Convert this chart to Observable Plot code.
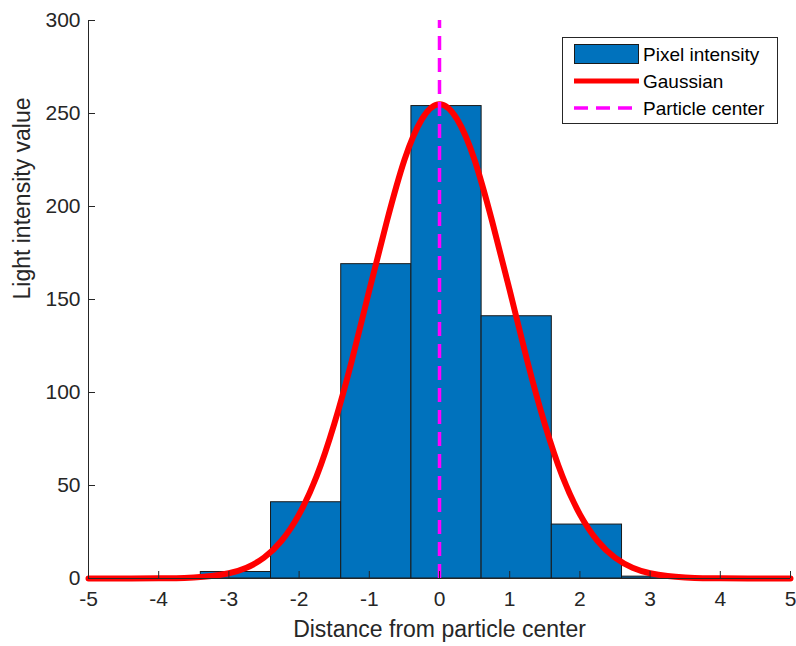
<!DOCTYPE html>
<html><head><meta charset="utf-8">
<script src="https://cdn.jsdelivr.net/npm/d3@7"></script>
<script src="https://cdn.jsdelivr.net/npm/@observablehq/plot@0.6"></script>
<style>
body{margin:0;background:#fff;font-family:"Liberation Sans",Arial,sans-serif;}
#chart{position:relative;width:796px;height:646px;}
</style></head><body><div id="chart"></div>
<script>
const binStart = [-3.4, -2.4, -1.4, -0.4, 0.6, 1.6, 2.6];
const binEnd   = [-2.4, -1.4, -0.4, 0.6, 1.6, 2.6, 3.6];
const intensity = [3.5, 41, 169, 254, 141, 29, 1];
const gaussX = [-5,-4.5,-4,-3.75,-3.5,-3.25,-3,-2.75,-2.5,-2.25,-2,-1.75,-1.5,-1.25,-1,-0.75,-0.5,-0.25,0,0.25,0.5,0.75,1,1.25,1.5,1.75,2,2.25,2.5,2.75,3,3.25,3.5,3.75,4,4.5,5];
const gaussY = [0,0,0.1,0.2,0.6,1.3,2.8,5.8,11.2,20.3,34.5,55,83,117,155,192,225,247,255,247,225,192,155,117,83,55,34.5,20.3,11.2,5.8,2.8,1.3,0.6,0.2,0.1,0,0];
const centerX = 0;
const xTicks = [-5,-4,-3,-2,-1,0,1,2,3,4,5];
const yTicks = [0,50,100,150,200,250,300];

const bars = binStart.map((s,i)=>({x1:s,x2:binEnd[i],y:intensity[i]}));
const curve = gaussX.map((x,i)=>({x,y:gaussY[i]}));
const FW = 796-88-6, FH = 646-20-68;

const plot = Plot.plot({
  width:796, height:646,
  marginLeft:88, marginRight:6, marginTop:20, marginBottom:68,
  x:{domain:[-5,5]}, y:{domain:[0,300]},
  style:{fontFamily:"Liberation Sans, Arial, sans-serif", fontSize:"21px", color:"#262626", background:"#fff"},
  marks:[
    Plot.rectY(bars,{x1:"x1",x2:"x2",y:"y",fill:"#0072BD",stroke:"#1a1a1a",strokeWidth:1}),
    Plot.line(curve,{x:"x",y:"y",stroke:"#FF0000",strokeWidth:6,curve:"natural"}),
    Plot.ruleX([centerX],{y1:0,y2:300,stroke:"#FF00FF",strokeWidth:3.5,strokeDasharray:"14,8"}),
    Plot.axisX({ticks:xTicks,tickSize:0,tickPadding:13,tickFormat:d=>String(d),fill:"#262626",fontSize:21,label:null}),
    Plot.axisY({ticks:yTicks,tickSize:0,tickPadding:8,tickFormat:d=>String(d),fill:"#262626",fontSize:21,label:null}),
    Plot.tickX(xTicks,{x:d=>d,insetTop:FH-7,stroke:"#262626"}),
    Plot.tickY(yTicks,{y:d=>d,insetRight:FW-7,stroke:"#262626"}),
    Plot.ruleY([0],{stroke:"#262626"}),
    Plot.ruleX([-5],{stroke:"#262626"}),
    Plot.text(["Distance from particle center"],{frameAnchor:"bottom",dy:58,fontSize:23,fill:"#262626"}),
    Plot.text(["Light intensity value"],{frameAnchor:"left",dx:-66,rotate:-90,fontSize:23,fill:"#262626"})
  ]
});
document.getElementById("chart").appendChild(plot);

// legend
const svg = d3.select(plot);
const g = svg.append("g").attr("font-family","Liberation Sans, Arial, sans-serif").attr("font-size",19).attr("fill","#000").attr("text-anchor","start");
g.append("rect").attr("x",562.5).attr("y",37.5).attr("width",215).attr("height",86).attr("fill","#fff").attr("stroke","#262626").attr("stroke-width",1);
g.append("rect").attr("x",574.5).attr("y",44.5).attr("width",64).attr("height",19).attr("fill","#0072BD").attr("stroke","#1a1a1a");
g.append("line").attr("x1",574).attr("x2",639).attr("y1",81).attr("y2",81).attr("stroke","#FF0000").attr("stroke-width",5);
g.append("line").attr("x1",574).attr("x2",639).attr("y1",108).attr("y2",108).attr("stroke","#FF00FF").attr("stroke-width",3.5).attr("stroke-dasharray","14,8");
const labels=["Pixel intensity","Gaussian","Particle center"];
[54,81,108].forEach((y,i)=>g.append("text").attr("x",643).attr("y",y).attr("dy","0.35em").attr("fill","#000").text(labels[i]));
</script></body></html>
